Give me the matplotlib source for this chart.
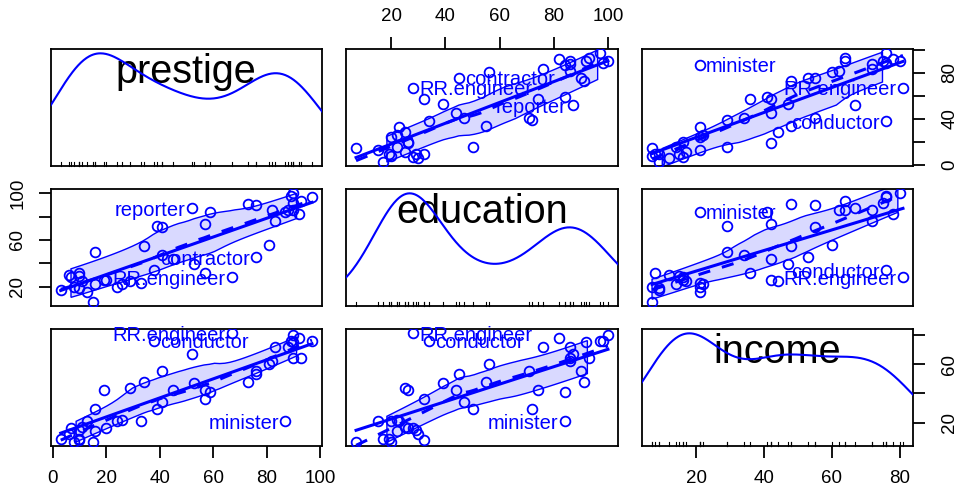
import numpy as np
import matplotlib.pyplot as plt

plt.rcParams['font.family'] = ['Liberation Sans', 'DejaVu Sans']

# Duncan occupational data
occupation = ['accountant', 'pilot', 'architect', 'author', 'chemist', 'minister',
              'professor', 'dentist', 'reporter', 'engineer', 'undertaker', 'lawyer',
              'physician', 'welfare.worker', 'teacher', 'conductor', 'contractor',
              'factory.owner', 'store.manager', 'banker', 'bookkeeper', 'mail.carrier',
              'insurance.agent', 'store.clerk', 'carpenter', 'electrician', 'RR.engineer',
              'machinist', 'auto.repairman', 'plumber', 'gas.stn.attendant', 'coal.miner',
              'streetcar.motorman', 'taxi.driver', 'truck.driver', 'machine.operator',
              'barber', 'bartender', 'shoe.shiner', 'cook', 'soda.clerk', 'watchman',
              'janitor', 'policeman', 'waiter']
income = [62, 72, 75, 55, 64, 21, 64, 80, 67, 72, 42, 76, 76, 41, 48, 76, 53, 60, 42, 78,
          29, 48, 55, 29, 21, 47, 81, 36, 22, 44, 15, 7, 42, 9, 21, 21, 16, 16, 9, 14,
          12, 17, 7, 34, 8]
education = [86, 76, 92, 90, 86, 84, 93, 100, 87, 86, 74, 98, 97, 84, 91, 34, 45, 56, 44,
             82, 72, 55, 71, 50, 23, 39, 28, 32, 22, 25, 29, 7, 26, 19, 15, 20, 26, 28,
             17, 22, 30, 25, 20, 47, 32]
prestige = [82, 83, 90, 76, 90, 87, 93, 90, 52, 88, 57, 89, 97, 59, 73, 38, 76, 81, 45, 92,
            39, 34, 41, 16, 33, 53, 67, 57, 26, 29, 10, 15, 19, 10, 13, 24, 20, 7, 3, 16,
            6, 11, 8, 41, 10]

var_names = ['prestige', 'education', 'income']
data = {'prestige': np.array(prestige, float),
        'education': np.array(education, float),
        'income': np.array(income, float)}

# axis ticks for each variable
ticks = {'prestige': [0, 20, 40, 60, 80, 100],
         'education': [20, 40, 60, 80, 100],
         'income': [20, 40, 60, 80]}

BLUE = '#0000FF'
FS = 13.5     # tick labels
LFS = 14.5    # point labels


def lims(v):
    lo, hi = v.min(), v.max()
    r = hi - lo
    return lo - 0.04 * r, hi + 0.04 * r


def bw_nrd0(x):
    sd = np.std(x, ddof=1)
    q75, q25 = np.percentile(x, [75, 25])
    return 0.9 * min(sd, (q75 - q25) / 1.34) * len(x) ** (-0.2)


def npdf(z):
    return np.exp(-0.5 * z ** 2) / np.sqrt(2 * np.pi)


def adaptive_density(x, n=500, cut=3):
    bw = bw_nrd0(x)
    x0 = np.linspace(x.min() - cut * bw, x.max() + cut * bw, n)
    pilot = npdf((x[:, None] - x[None, :]) / bw).mean(axis=1) / bw
    g = np.exp(np.mean(np.log(pilot)))
    h = bw * np.sqrt(g / pilot)
    y0 = (npdf((x0[:, None] - x[None, :]) / h[None, :]) / h[None, :]).mean(axis=1)
    return x0, y0


def loess(x, y, xe, span=2/3, degree=1, iterations=4):
    n = len(x)
    q = int(np.floor(n * span))

    def fit_at(pts, rw):
        out = np.empty(len(pts))
        for k, p in enumerate(pts):
            d = np.abs(x - p)
            h = np.sort(d)[q - 1] * 1.0000001
            w = np.clip(1 - (d / h) ** 3, 0, None) ** 3 * rw
            if degree == 0:
                out[k] = np.sum(w * y) / np.sum(w)
            else:
                X = np.column_stack([np.ones(n), x - p])
                A = X.T @ (w[:, None] * X)
                b = X.T @ (w * y)
                out[k] = np.linalg.solve(A, b)[0]
        return out

    rw = np.ones(n)
    for it in range(iterations):
        fitted = fit_at(x, rw)
        if it == iterations - 1:
            break
        res = y - fitted
        s = np.median(np.abs(res))
        rw = np.clip(1 - (res / (6 * s)) ** 2, 0, None) ** 2
    pred = fit_at(xe, rw)
    pred[(xe < x.min()) | (xe > x.max())] = np.nan
    return fitted, pred


def mahal_top(x, y, k=3):
    Z = np.column_stack([x, y])
    D = Z - Z.mean(axis=0)
    S = np.linalg.inv(np.cov(Z, rowvar=False))
    d = np.einsum('ij,jk,ik->i', D, S, D)
    return np.argsort(d)[::-1][:k]


W, H = 959, 492
fig = plt.figure(figsize=(W / 100, H / 100), dpi=100)

col_x = [(50.7, 322), (346, 618), (642, 913)]
row_y = [(49, 166), (189, 306), (329, 446)]


def add_panel(r, c):
    x0, x1 = col_x[c]
    y0, y1 = row_y[r]
    return fig.add_axes([x0 / W, 1 - y1 / H, (x1 - x0) / W, (y1 - y0) / H])


axes = {}
for r, yv in enumerate(var_names):
    for c, xv in enumerate(var_names):
        ax = add_panel(r, c)
        axes[r, c] = ax
        xd = data[xv]
        ax.set_xlim(*lims(xd))
        ax.set_ylim(*lims(data[yv]))
        ax.set_xticks([])
        ax.set_yticks([])
        for s in ax.spines.values():
            s.set_linewidth(1.3)

        if r == c:
            # adaptive kernel density, with a rug along the bottom
            dax = fig.add_axes(ax.get_position())
            dax.set_axis_off()
            dx, dy = adaptive_density(xd)
            dax.plot(dx, dy, color=BLUE, lw=1.5)
            top = dy.max()
            dax.set_xlim(*lims(xd))
            dax.set_ylim(-0.04 * top, 1.04 * top)
            for v in xd:
                dax.plot([v, v], [0, 0.035], color='black', lw=0.8,
                         transform=dax.get_xaxis_transform(), clip_on=False)
            ax.text(0.5, 0.71, xv, transform=ax.transAxes, ha='center',
                    va='baseline', fontsize=28.5, color='black', zorder=5)
            continue

        yd = data[yv]
        ax.plot(xd, yd, 'o', mfc='none', mec=BLUE, ms=7, mew=1.3, zorder=3)

        # least-squares line
        slope, inter = np.polyfit(xd, yd, 1)
        xr = np.array([xd.min(), xd.max()])
        ax.plot(xr, inter + slope * xr, color=BLUE, lw=2.2, zorder=4)

        # loess smooth and its spread
        order = np.argsort(xd, kind='stable')
        xs, ys = xd[order], yd[order]
        xe = np.linspace(xs.min(), xs.max(), 50)
        fitted, ye = loess(xs, ys, xe)
        ax.plot(xe, ye, color=BLUE, lw=2.2, ls=(0, (4, 4)), zorder=4)
        res = ys - fitted
        pos = res > 0
        _, vp = loess(xs[pos], res[pos] ** 2, xe, degree=0)
        _, vn = loess(xs[~pos], res[~pos] ** 2, xe, degree=0)
        up = ye + np.sqrt(vp)
        lo = ye - np.sqrt(vn)
        ok = ~np.isnan(up) & ~np.isnan(lo)
        px = np.concatenate([xe[ok], xe[ok][::-1]])
        py = np.concatenate([up[ok], lo[ok][::-1]])
        ax.fill(px, py, facecolor=BLUE, alpha=0.15, edgecolor='none', zorder=1)
        ax.fill(px, py, facecolor='none', edgecolor=BLUE, lw=1.0, zorder=2)

        # label the three most outlying cases
        xmid = sum(ax.get_xlim()) / 2
        for i in mahal_top(xd, yd):
            right = xd[i] <= xmid
            off = LFS * 0.3
            ax.annotate(occupation[i], (xd[i], yd[i]),
                        xytext=(off if right else -off, 0),
                        textcoords='offset points',
                        ha='left' if right else 'right', va='center_baseline',
                        fontsize=LFS, color=BLUE, annotation_clip=False, zorder=5)


def style_axis(ax, which, v, shown, pad=9):
    labels = [str(t) if t in shown else '' for t in ticks[v]]
    kw = dict(length=8.5, width=1.3, labelsize=FS, pad=pad, direction='out')
    if which in ('bottom', 'top'):
        ax.set_xticks(ticks[v])
        ax.set_xticklabels(labels)
        ax.tick_params(axis='x', bottom=which == 'bottom', top=which == 'top',
                       labelbottom=which == 'bottom', labeltop=which == 'top', **kw)
    else:
        ax.set_yticks(ticks[v])
        ax.set_yticklabels(labels, rotation=90, va='center')
        ax.tick_params(axis='y', left=which == 'left', right=which == 'right',
                       labelleft=which == 'left', labelright=which == 'right', **kw)


style_axis(axes[2, 0], 'bottom', 'prestige', [0, 20, 40, 60, 80, 100])
style_axis(axes[0, 1], 'top', 'education', [20, 40, 60, 80, 100])
style_axis(axes[2, 2], 'bottom', 'income', [20, 40, 60, 80])
style_axis(axes[0, 2], 'right', 'prestige', [0, 40, 80], pad=12)
style_axis(axes[1, 0], 'left', 'education', [20, 60, 100])
style_axis(axes[2, 2], 'right', 'income', [20, 60], pad=12)

fig.savefig('out.png', dpi=100)
